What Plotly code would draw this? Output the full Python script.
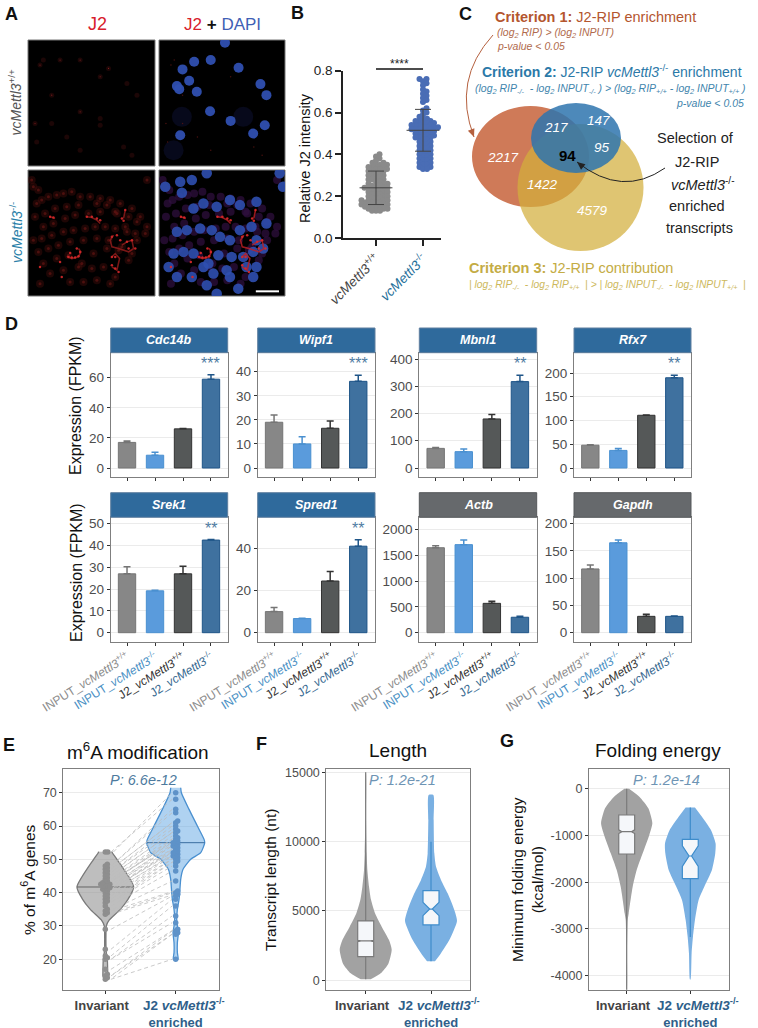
import plotly.graph_objects as go

W, H = 758, 1028
FONT = "Liberation Sans"

# ---------- DATA ----------
GENES = ["Cdc14b", "Wipf1", "Mbnl1", "Rfx7", "Srek1", "Spred1", "Actb", "Gapdh"]
BAR_VALUES = {
    "Cdc14b": [17, 8.5, 26, 59], "Wipf1": [19, 10, 16.5, 36],
    "Mbnl1": [72, 60, 180, 317], "Rfx7": [48, 37, 111, 190],
    "Srek1": [27, 19.2, 27, 42.5], "Spred1": [10, 6.7, 24.5, 41],
    "Actb": [1650, 1710, 570, 300], "Gapdh": [117, 165, 30, 30],
}
BAR_ERRORS = {
    "Cdc14b": [1, 2, 0.2, 3], "Wipf1": [3, 3, 3, 2.5],
    "Mbnl1": [3, 10, 16, 23], "Rfx7": [1, 4, 0.5, 5],
    "Srek1": [3.3, 0.3, 3.5, 0.2], "Spred1": [2, 0.2, 4.5, 3],
    "Actb": [40, 90, 40, 20], "Gapdh": [7, 5, 4, 0.5],
}
BAR_TICKS = {
    "Cdc14b": [0, 20, 40, 60], "Wipf1": [0, 10, 20, 30, 40],
    "Mbnl1": [0, 100, 200, 300, 400], "Rfx7": [0, 50, 100, 150, 200],
    "Srek1": [0, 10, 20, 30, 40, 50], "Spred1": [0, 20, 40],
    "Actb": [0, 500, 1000, 1500, 2000], "Gapdh": [0, 50, 100, 150, 200],
}
BAR_STARS = {"Cdc14b": "***", "Wipf1": "***", "Mbnl1": "**", "Rfx7": "**", "Srek1": "**", "Spred1": "**"}
BAR_LABELS = ["INPUT_<i>vcMettl3</i><sup>+/+</sup>", "INPUT_<i>vcMettl3</i><sup>-/-</sup>",
              "J2_<i>vcMettl3</i><sup>+/+</sup>", "J2_<i>vcMettl3</i><sup>-/-</sup>"]

J2_WT = [0.40,0.39,0.38,0.37,0.36,0.36,0.35,0.35,0.35,0.34,0.34,0.34,0.33,0.33,0.33,0.32,0.32,0.32,0.31,0.31,
         0.30,0.30,0.30,0.29,0.29,0.28,0.28,0.28,0.27,0.27,0.26,0.26,0.26,0.25,0.25,0.25,0.24,0.24,0.24,0.24,
         0.23,0.23,0.23,0.22,0.22,0.22,0.21,0.21,0.21,0.20,0.20,0.20,0.19,0.19,0.19,0.18,0.18,0.18,0.18,0.17,
         0.17,0.17,0.17,0.16,0.16,0.16,0.16,0.15,0.15,0.15,0.15,0.14,0.14,0.14,0.13,0.13,0.13]
J2_KO = [0.76,0.76,0.75,0.74,0.73,0.71,0.70,0.69,0.68,0.67,0.66,0.65,0.62,0.61,0.60,0.59,0.58,0.57,0.57,0.56,
         0.56,0.56,0.55,0.55,0.55,0.54,0.54,0.54,0.54,0.53,0.53,0.53,0.53,0.52,0.52,0.52,0.52,0.51,0.51,0.51,
         0.50,0.50,0.50,0.49,0.49,0.49,0.48,0.48,0.48,0.47,0.47,0.46,0.46,0.45,0.45,0.44,0.44,0.43,0.43,0.42,
         0.42,0.41,0.41,0.40,0.40,0.39,0.39,0.38,0.38,0.37,0.37,0.36,0.36,0.35,0.35,0.34,0.34,0.33,0.33]
J2_MEAN = [0.24, 0.515]
J2_SD = [0.08, 0.10]

M6A_INV = [14,14.5,15,15.5,17,20,20.5,21,23,29,33.5,34,34.5,35,36,37,37.5,38,38.5,39,39.5,40,40.5,41,41,41.5,41.5,
           42,42,42.5,42.5,42.5,43,43,43.5,44,44.5,45,45.5,46,46.5,47,47.5,48,48.5,52.2,52.2]
M6A_ENR = [20,27.5,28,28.5,29,31,33,36,38,39,39.5,40,40.5,43.5,46.5,48,49,49.5,50,50.5,51,51,51.5,52,52,52.5,53,
           53.5,54,54,54.5,55,55,55.5,56,56.5,57,58,58.5,59,60,61,61.5,64,65,68,70]
M6A_MEDIAN = [41.7, 55]
E_INV_LEVELS = [52.3,52,50,41.7,38,35,31.8,30,28,24,22,20,17,15,14]
E_INV_WIDTH = [20,21,35,85,68,45,12,3,2,2,3,6,7,7,3]
E_ENR_LEVELS = [71.5,70,65,60,56,55,52,50,47,44,40,38,35,32,30,28,25,22,20]
E_ENR_WIDTH = [15,17,40,65,85,87,75,45,22,15,12,10,5,3,5,8,5,5,7]

F_INV_LEVELS = [70,500,1200,2200,2900,3870,4830,5800,6750,7960,9160,11560,15000]
F_INV_WIDTH = [15,45,68,78,70,48,28,16,10,5,3,1,0.5]
F_ENR_LEVELS = [1370,1950,2900,4280,5070,6270,7240,8200,9160,11560,13370]
F_ENR_WIDTH = [12,30,55,78,70,50,30,15,10,8,7]
F_BOX = {"q1": [1710, 3990], "median": [2840, 5140], "q3": [4280, 6470],
         "low": [70, 1370], "high": [15000, 10000], "notch": [50, 480]}

G_INV_LEVELS = [0,-170,-420,-740,-990,-1383,-1740,-2096,-2667,-2810,-3520,-4300]
G_INV_WIDTH = [7,38,65,77,68,48,30,18,6,3,1,0.5]
G_ENR_LEVELS = [-400,-600,-885,-1170,-1383,-1740,-2096,-2380,-2810,-3166,-3520,-4080]
G_ENR_WIDTH = [14,35,62,76,75,65,42,25,14,8,4,1]
G_BOX = {"q1": [-1397, -1925], "median": [-920, -1440], "q3": [-563, -1084],
         "low": [-4300, -3170], "high": [0, -400], "notch": [40, 220]}

VENN_COUNTS = [("2217", 503, 157), ("217", 556, 127), ("147", 598, 120), ("95", 602, 148),
               ("1422", 542, 184), ("4579", 592, 211)]

# micrograph features, in image coordinates of panel A
DAPI_WT_X = [582,632,547,716,567,530,537,590,782,800,630,692,795,760,540,675]
DAPI_WT_Y = [185,180,208,203,242,258,267,275,252,285,333,362,375,400,405,128]
HAZE_WT_X = [545,730,520]
HAZE_WT_Y = [350,350,450]
DAPI_KO_X = [495,540,575,545,620,840,850,580,610,650,690,720,770,800,530,560,600,635,660,720,755,770,790,760,730,
             550,520,580,625,655,695,740,770,505,530,575,640,680,715,760,690,620,650,610,690]
DAPI_KO_Y = [560,545,540,578,520,520,560,625,610,620,600,615,605,670,695,690,685,690,710,690,680,720,745,755,770,
             755,760,760,790,765,770,800,800,800,830,830,820,810,865,830,830,855,880,800,720]
J2_BRIGHT_X = [205,215,225,235,210,240,150,160,260,275,290,365,375,370,335,350,360,380,395,405,385,345,335,345,355,335,185,120,180,300,230]
J2_BRIGHT_Y = [770,772,772,768,758,755,650,652,650,650,655,655,630,662,710,705,720,725,720,745,745,770,770,805,815,795,830,800,785,660,745]
J2_ARC_X = [200,215,235,242,235,None,340,330,335,355,385,400,395,380,365,None,260,275,290,300,None,150,165,None,370,375,None,335,345,358,350,335]
J2_ARC_Y = [768,775,770,755,745,None,705,720,740,745,755,745,720,725,735,None,650,652,660,670,None,650,655,None,655,630,None,770,760,775,810,800]
J2_DIM_X = [110,125,145,170,190,215,240,270,300,330,360,395,420,440,105,135,165,200,235,290,320,350,385,410,435,130,
            160,195,225,265,300,345,375,405,100,125,155,190,220,255,285,315,345,380,410,115,145,175,210,250,290,325,
            365,395,130,170,205,245,280,320,355,385,150,190,235,275,310,345,210,250,290,330,120,100,440,95,115]
J2_DIM_Y = [610,600,590,585,580,575,590,590,595,600,610,625,650,680,650,640,625,620,615,610,615,640,650,665,700,680,
            670,655,645,640,635,635,680,700,720,715,705,695,690,685,680,680,685,695,720,755,745,735,725,720,715,720,
            740,760,790,775,765,790,760,745,750,780,820,810,800,805,800,830,845,845,840,850,850,560,540,540,570]
J2_FAINT_X = [120,180,240,325,300,240,155,105,155,410,300,130,370,395,110,300,240,380,200]
J2_FAINT_Y = [195,180,180,205,230,335,285,370,370,285,375,180,440,465,425,355,450,250,410]
SCALE_BAR_X = [768, 838]
SCALE_BAR_Y = [873, 873]

# ---------- helpers ----------
def fx(x): return x / W
def fy(y): return 1 - y / H

fig = go.Figure()
layout = dict(width=W, height=H, margin=dict(l=0, r=0, t=0, b=0, autoexpand=False), paper_bgcolor="white",
              plot_bgcolor="rgba(0,0,0,0)", showlegend=False, boxmode="overlay",
              font=dict(family=FONT, color="#222"))
annotations, shapes = [], []
axis_count = [0]

def add_axes(box, xrange, yrange, **kw):
    axis_count[0] += 1
    n = axis_count[0]
    xa = dict(domain=[fx(box[0]), fx(box[2])], range=xrange, anchor=f"y{n}", showgrid=False, zeroline=False, automargin=False)
    ya = dict(domain=[fy(box[3]), fy(box[1])], range=yrange, anchor=f"x{n}", showgrid=False, zeroline=False, automargin=False)
    xa.update(kw.get("x", {})); ya.update(kw.get("y", {}))
    layout[f"xaxis{n}"] = xa
    layout[f"yaxis{n}"] = ya
    return f"x{n}", f"y{n}"

def cal(px_a, val_a, px_b, val_b, bottom_px, top_px):
    s = (val_b - val_a) / (px_b - px_a)
    return [val_a + (bottom_px - px_a) * s, val_a + (top_px - px_a) * s]

def ann(x, y, text, size, color="#222", anchor="center", angle=0, valign="middle"):
    annotations.append(dict(xref="paper", yref="paper", x=fx(x), y=fy(y), text=text, showarrow=False,
                            font=dict(size=size, color=color, family=FONT), xanchor=anchor, yanchor=valign,
                            textangle=angle, align="center"))

def ell(cx, cy, rx, ry, color, op, layer="above"):
    shapes.append(dict(type="circle", xref="paper", yref="paper", x0=fx(cx-rx), x1=fx(cx+rx), y0=fy(cy+ry), y1=fy(cy-ry),
                       fillcolor=color, opacity=op, line=dict(width=0), layer=layer))

def rect(x0, y0, x1, y1, fill, line=None, layer="above"):
    shapes.append(dict(type="rect", xref="paper", yref="paper", x0=fx(x0), x1=fx(x1), y0=fy(y1), y1=fy(y0),
                       fillcolor=fill, line=dict(color=line or fill, width=1), layer=layer))

def curve(p0, c, p1, color, width=1):
    shapes.append(dict(type="path", xref="paper", yref="paper",
                       path=f"M {fx(p0[0])},{fy(p0[1])} Q {fx(c[0])},{fy(c[1])} {fx(p1[0])},{fy(p1[1])}",
                       line=dict(color=color, width=width), layer="above"))
    dx, dy = p1[0]-c[0], p1[1]-c[1]
    n = (dx*dx+dy*dy)**0.5
    dx, dy = dx/n, dy/n
    L, B = 8, 3.5
    a = (p1[0]-dx*L-dy*B, p1[1]-dy*L+dx*B)
    b = (p1[0]-dx*L+dy*B, p1[1]-dy*L-dx*B)
    shapes.append(dict(type="path", xref="paper", yref="paper",
                       path=f"M {fx(p1[0])},{fy(p1[1])} L {fx(a[0])},{fy(a[1])} L {fx(b[0])},{fy(b[1])} Z",
                       fillcolor=color, line=dict(color=color, width=0), layer="above"))

def swarm(vals, ypx, xpx, d):
    order = sorted(range(len(vals)), key=lambda i: vals[i])
    placed, out = [], [0.0]*len(vals)
    for i in order:
        y = vals[i]*ypx
        k = 0
        while True:
            off = ((k+1)//2) * 0.5 * (1 if k % 2 else -1)
            if all((off-a)**2 + (y-b)**2 >= d*d for a, b in placed):
                break
            k += 1
        placed.append((off, y))
        out[i] = off/xpx
    return out

# ---------- Panel A ----------
def micro(box, xr, yr, layers):
    rect(box[0], box[1], box[2], box[3], "black", "#777", layer="below")
    xa, ya = add_axes(box, xr, yr, x=dict(visible=False), y=dict(visible=False))
    for xs, ys, size, color, op in layers:
        fig.add_trace(go.Scatter(x=xs, y=ys, mode="markers", xaxis=xa, yaxis=ya, cliponaxis=True, hoverinfo="skip",
                                 marker=dict(size=size, color=color, opacity=op, line=dict(width=0))))
    return xa, ya

OFFS = 392
micro((28, 40, 155, 166), [84, 464], [497, 120], [(J2_FAINT_X, J2_FAINT_Y, 5, "#230807", 0.8), (J2_FAINT_X[:8], J2_FAINT_Y[:8], 1.2, "#8a2020", 0.9)])
micro((159, 40, 285, 166), [476, 856], [497, 120],
      [(HAZE_WT_X, HAZE_WT_Y, 20, "#10153c", 0.45), ([x+OFFS for x in J2_FAINT_X], J2_FAINT_Y, 1.5, "#5a1512", 0.8),
       (DAPI_WT_X, DAPI_WT_Y, 10, "#2f4fb0", 0.95)])
xa, ya = micro((28, 170, 155, 296), [84, 464], [887, 510],
      [(J2_DIM_X, J2_DIM_Y, 8, "#4a0f0d", 0.4), (J2_DIM_X, J2_DIM_Y, 3, "#7a1a18", 0.5)])
fig.add_trace(go.Scatter(x=J2_ARC_X, y=J2_ARC_Y, mode="lines", xaxis=xa, yaxis=ya, hoverinfo="skip", opacity=0.75,
                         line=dict(color="#a01f1e", width=1.6)))
fig.add_trace(go.Scatter(x=J2_BRIGHT_X, y=J2_BRIGHT_Y, mode="markers", xaxis=xa, yaxis=ya, hoverinfo="skip",
                         marker=dict(size=2.5, color="#d5282a", opacity=0.9)))
xa, ya = micro((159, 170, 285, 296), [476, 856], [887, 510],
      [([x+OFFS for x in J2_DIM_X], J2_DIM_Y, 8, "#301040", 0.7), (DAPI_KO_X, DAPI_KO_Y, 10.5, "#2f4fb0", 0.9)])
fig.add_trace(go.Scatter(x=[None if v is None else v+OFFS for v in J2_ARC_X], y=J2_ARC_Y, mode="lines", xaxis=xa, yaxis=ya,
                         hoverinfo="skip", opacity=0.8, line=dict(color="#c02024", width=1.6)))
fig.add_trace(go.Scatter(x=[x+OFFS for x in J2_BRIGHT_X], y=J2_BRIGHT_Y, mode="markers", xaxis=xa, yaxis=ya, hoverinfo="skip",
                         marker=dict(size=2.5, color="#d5282a", opacity=0.95)))
fig.add_trace(go.Scatter(x=SCALE_BAR_X, y=SCALE_BAR_Y, mode="lines", xaxis=xa, yaxis=ya, hoverinfo="skip",
                         line=dict(color="white", width=2)))
ann(97, 24, "J2", 18, "#D8202C")
ann(222, 24, "<span style='color:#D8202C'>J2</span> <b>+</b> <span style='color:#3F5FB5'>DAPI</span>", 17, "#111")
ann(16, 102.5, "<i>vcMettl3</i><sup>+/+</sup>", 14, "#555", angle=-90)
ann(16, 233, "<i>vcMettl3</i><sup>-/-</sup>", 14, "#2A7FA8", angle=-90)

# ---------- Panel B ----------
bbox = (343, 70.7, 441, 238)
sp = 47
xa, ya = add_axes(bbox, [-33/sp, 65/sp], [0, 0.8],
    x=dict(showline=True, linecolor="#222", linewidth=1.5, ticks="outside", ticklen=6, tickwidth=1.5, tickcolor="#222",
           tickvals=[0, 1], tickangle=-45, tickfont=dict(size=13.5),
           ticktext=["<span style='color:#444'><i>vcMettl3</i><sup>+/+</sup></span>", "<span style='color:#1F6F9A'><i>vcMettl3</i><sup>-/-</sup></span>"]),
    y=dict(showline=True, linecolor="#222", linewidth=1.5, ticks="outside", ticklen=6, tickwidth=1.5, tickcolor="#222",
           tickvals=[0, .2, .4, .6, .8], ticktext=["0.0", "0.2", "0.4", "0.6", "0.8"], tickfont=dict(size=13.5, color="#222")))
for i, (vals, c) in enumerate([(J2_WT, "#8A8A8A"), (J2_KO, "#4A6DB5")]):
    off = swarm(vals, 209, sp, 4.0)
    fig.add_trace(go.Scatter(x=[i+o for o in off], y=vals, mode="markers", xaxis=xa, yaxis=ya, cliponaxis=False,
                             marker=dict(size=6, color=c), hoverinfo="y"))
    fig.add_trace(go.Scatter(x=[i], y=[J2_MEAN[i]], mode="markers", xaxis=xa, yaxis=ya,
                             marker=dict(size=1, color="#333"),
                             error_y=dict(type="constant", value=J2_SD[i], color="#444", thickness=1, width=8),
                             hoverinfo="skip"))
    fig.add_trace(go.Scatter(x=[i-0.35, i+0.35], y=[J2_MEAN[i]]*2, mode="lines", xaxis=xa, yaxis=ya,
                             line=dict(color="#444", width=1), hoverinfo="skip"))
shapes.append(dict(type="line", xref=xa, yref="paper", x0=0, x1=1, y0=fy(69), y1=fy(69),
                   line=dict(color="#111", width=1.5), layer="above"))
ann(399, 64, "****", 12, "#222")
ann(305, 158, "Relative J2 intensity", 14.5, "#111", angle=-90)

# ---------- Panel C ----------
ell(530.5, 156.5, 58.5, 50.5, "#CF7A58", 1)
ell(580.5, 187.5, 63, 63.5, "#D2AF3C", 0.72)
ell(576, 138, 45, 35, "#2E74AE", 0.85)
for t, x, y in VENN_COUNTS:
    ann(x, y, f"<i>{t}</i>", 13.5, "white")
ann(567, 155, "<b>94</b>", 15, "black")
ann(493, 17, "<b>Criterion 1:</b> J2-RIP enrichment", 14.5, "#B4562F", anchor="left")
ann(495, 33, "<i>(log<sub>2</sub> RIP) &gt; (log<sub>2</sub> INPUT)</i>", 10.5, "#B06A4C", anchor="left")
ann(495, 46, "<i>p-value &lt; 0.05</i>", 10.5, "#B06A4C", anchor="left")
ann(480, 71, "<b>Criterion 2:</b> J2-RIP <i>vcMettl3</i><sup>-/-</sup> enrichment", 14, "#2B79A8", anchor="left")
ann(473, 89, "<i>(log<sub>2</sub> RIP<sub>-/-</sub>  - log<sub>2</sub> INPUT<sub>-/-</sub> ) &gt; (log<sub>2</sub> RIP<sub>+/+</sub> - log<sub>2</sub> INPUT<sub>+/+</sub> )</i>", 10.5, "#3F85AD", anchor="left")
ann(746, 103, "<i>p-value &lt; 0.05</i>", 10.5, "#3F85AD", anchor="right")
ann(467, 268, "<b>Criterion 3:</b> J2-RIP contribution", 14.5, "#C4AC45", anchor="left")
ann(467, 285, "<i>| log<sub>2</sub> RIP<sub>-/-</sub>  - log<sub>2</sub> RIP<sub>+/+</sub>  | &gt; | log<sub>2</sub> INPUT<sub>-/-</sub>  - log<sub>2</sub> INPUT<sub>+/+</sub>  |</i>", 10.3, "#CDB85C", anchor="left")
for t, x, y in [("Selection of", 695, 138), ("J2-RIP", 697, 162), ("<i>vcMettl3</i><sup>-/-</sup>", 703, 184),
                ("enriched", 697, 206), ("transcripts", 699, 228)]:
    ann(x, y, t, 14.5, "#222")
curve((665, 168), (622, 198), (577, 162), "#222", 1)
curve((493, 35), (452, 80), (474, 137), "#B5613F", 1)

# ---------- Panel D ----------
COLS = [(110.7, 227.7), (257.7, 375), (419.3, 536.7), (574, 691)]
ROW1 = (328, 352.7, 476.7)
ROW2 = (492.7, 517.3, 641.7)
CAL = {"Cdc14b": (468, 0, 377.7, 60), "Wipf1": (468, 0, 371.7, 40), "Mbnl1": (468, 0, 359, 400), "Rfx7": (468, 0, 373, 200),
       "Srek1": (632.7, 0, 523.7, 50), "Spred1": (632.7, 0, 548.3, 40), "Actb": (632.7, 0, 529.7, 2000), "Gapdh": (632.7, 0, 523.7, 200)}
FILL = ["#878787", "#5A9BDC", "#555858", "#3F719F"]
EDGE = ["#757575", "#4A90D0", "#333333", "#1F5588"]
TXT = ["#8C8C8C", "#4A90C4", "#333333", "#36688F"]
ticktext = [f"<span style='color:{c}'>{t}</span>" for c, t in zip(TXT, BAR_LABELS)]
for k, gene in enumerate(GENES):
    col, row = k % 4, k // 4
    hdr, top, bot = ROW1 if row == 0 else ROW2
    x0, x1 = COLS[col]
    yr = cal(CAL[gene][0], CAL[gene][1], CAL[gene][2], CAL[gene][3], bot, top)
    xa, ya = add_axes((x0, top, x1, bot), [-0.583, 3.597], yr,
        x=dict(showline=True, mirror=True, linecolor="#7F7F7F", linewidth=1, ticks="outside", ticklen=3, tickcolor="#333",
               tickvals=[0, 1, 2, 3], ticktext=ticktext, showticklabels=row == 1, tickangle=-32, tickfont=dict(size=12)),
        y=dict(showline=True, mirror=True, linecolor="#7F7F7F", linewidth=1, ticks="outside", ticklen=3, tickcolor="#333",
               tickvals=BAR_TICKS[gene], tickfont=dict(size=13.5, color="#4D4D4D"),
               showgrid=True, gridcolor="#EBEBEB", gridwidth=1))
    for i in range(4):
        fig.add_trace(go.Bar(x=[i], y=[BAR_VALUES[gene][i]], width=0.62, xaxis=xa, yaxis=ya,
                             marker=dict(color=FILL[i], line=dict(color=EDGE[i], width=1)),
                             error_y=dict(type="data", symmetric=False, array=[BAR_ERRORS[gene][i]], arrayminus=[0],
                                          color=EDGE[i], thickness=1.5, width=3.5)))
    hc = "#2F6A9C" if gene not in ("Actb", "Gapdh") else "#66696C"
    rect(x0, hdr, x1, top, hc, "#5F7F9F" if gene not in ("Actb", "Gapdh") else "#55585B")
    ann((x0+x1)/2, (hdr+top)/2, f"<b><i>{gene}</i></b>", 12.5, "white")
    if gene in BAR_STARS:
        annotations.append(dict(xref=xa, yref="paper", x=3, y=fy(top+11), text=BAR_STARS[gene], showarrow=False,
                                font=dict(size=16, color="#4F7CA3", family=FONT), xanchor="center", yanchor="middle"))
ann(76, 406, "Expression (FPKM)", 16, "#111", angle=-90)
ann(76, 573, "Expression (FPKM)", 16, "#111", angle=-90)

# ---------- Panels E, F, G ----------
def violin(xa, ya, c, levels, widths, scale, fill, line=None):
    xs = [c - w/scale for w in widths] + [c + w/scale for w in reversed(widths)]
    ys = list(levels) + list(reversed(levels))
    fig.add_trace(go.Scatter(x=xs, y=ys, mode="lines", fill="toself", fillcolor=fill, xaxis=xa, yaxis=ya, hoverinfo="skip",
                             line=dict(color=line or fill, width=1.3 if line else 0, shape="spline", smoothing=0.6)))

def overlay_axes(box, xr, yr, xa, ya):
    return add_axes(box, xr, yr, x=dict(overlaying=xa, visible=False), y=dict(overlaying=ya, visible=False))

def boxes(xa, ya, c, box, i, color, width):
    fig.add_trace(go.Box(x=[c], q1=[box["q1"][i]], median=[box["median"][i]], q3=[box["q3"][i]],
                         lowerfence=[box["low"][i]], upperfence=[box["high"][i]],
                         notched=True, notchspan=[box["notch"][i]], notchwidth=0.2 if i == 0 else 0.42,
                         width=width, whiskerwidth=0, boxpoints=False, xaxis=xa, yaxis=ya, fillcolor="#F5F7FA",
                         line=dict(color=color, width=1.2), hoverinfo="skip"))

NB = "\u00a0"
GROUP_TICKS = [f"<span style='color:#444'><b>Invariant{NB*2}</b></span>",
               f"<span style='color:#2F5F8A'><b>{NB}<br>enriched</b></span>"]
def vaxes(box, c0, c1, yr, ticks):
    s = c1 - c0
    xr = [(box[0]-c0)/s, (box[2]-c0)/s]
    yk = dict(showline=True, mirror=True, linecolor="#7F7F7F", linewidth=1, ticks="outside", ticklen=3, tickcolor="#333",
              tickvals=ticks, ticktext=[str(t) for t in ticks], tickfont=dict(size=12.5, color="#4D4D4D"),
              showgrid=True, gridcolor="#EBEBEB", gridwidth=1)
    xa, ya = add_axes(box, xr, yr,
        x=dict(showline=True, mirror=True, linecolor="#7F7F7F", linewidth=1, ticks="outside", ticklen=3, tickcolor="#333",
               tickvals=[0, 1], ticktext=GROUP_TICKS, tickangle=0, tickfont=dict(size=13)), y=yk)
    annotations.append(dict(xref=xa, yref="paper", x=1, xshift=8, y=fy(1004),
                            text="<b>J2 <i>vcMettl3</i><sup>-/-</sup></b>", showarrow=False, xanchor="center", yanchor="middle",
                            font=dict(size=13.5, color="#2F5F8A", family=FONT)))
    return xa, ya, xr

# E
top, bot = 769.3, 990
box = (63.3, top, 218.7, bot)
xa, ya, xr = vaxes(box, 105.3, 175.7, cal(792.7, 70, 959.3, 20, bot, top), [20, 30, 40, 50, 60, 70])
violin(xa, ya, 0, E_INV_LEVELS, E_INV_WIDTH, 211, "rgba(150,150,150,0.62)", "#7A7A7A")
violin(xa, ya, 1, E_ENR_LEVELS, E_ENR_WIDTH, 211, "rgba(95,165,228,0.5)", "#4A90D0")
for i, c in enumerate(["#666", "#3A6EA0"]):
    fig.add_trace(go.Scatter(x=[i - (E_INV_WIDTH if i == 0 else E_ENR_WIDTH)[3 if i == 0 else 5]/211,
                                i + (E_INV_WIDTH if i == 0 else E_ENR_WIDTH)[3 if i == 0 else 5]/211],
                             y=[M6A_MEDIAN[i]]*2, mode="lines", xaxis=xa, yaxis=ya, line=dict(color=c, width=1), hoverinfo="skip"))
off0 = swarm(M6A_INV, 3.33, 70.4, 2.4)
off1 = swarm(M6A_ENR, 3.33, 70.4, 2.4)
lx, ly = [], []
for a, b, o0, o1 in zip(M6A_INV, M6A_ENR, off0, off1):
    lx += [o0+0.08, 1+o1-0.05, None]
    ly += [a, b, None]
fig.add_trace(go.Scatter(x=lx, y=ly, mode="lines", xaxis=xa, yaxis=ya, hoverinfo="skip",
                         line=dict(color="#BDBDBD", width=0.8, dash="4px,3px")))
fig.add_trace(go.Scatter(x=off0, y=M6A_INV, mode="markers", xaxis=xa, yaxis=ya, marker=dict(size=5.5, color="#8E8E8E")))
fig.add_trace(go.Scatter(x=[1+o for o in off1], y=M6A_ENR, mode="markers", xaxis=xa, yaxis=ya, marker=dict(size=5.5, color="#5E92C8")))
ann(138, 751, "m<sup>6</sup>A modification", 19, "#111")
ann(143, 780, "<i>P: 6.6e-12</i>", 14.5, "#4D7A9E")
ann(28, 880, "% of m<sup>6</sup>A genes", 15.5, "#111", angle=-90)

# F
box = (326.3, top, 470, bot)
yr = cal(980.3, 0, 772.3, 15000, bot, top)
xa, ya, xr = vaxes(box, 365.7, 431, yr, [0, 5000, 10000, 15000])
violin(xa, ya, 0, F_INV_LEVELS, F_INV_WIDTH, 196, "#A2A2A2")
violin(xa, ya, 1, F_ENR_LEVELS, F_ENR_WIDTH, 196, "#7AB0E2")
xb, yb = overlay_axes(box, xr, yr, xa, ya)
boxes(xb, yb, 0, F_BOX, 0, "#7A7A7A", 0.245)
boxes(xb, yb, 1, F_BOX, 1, "#3E8CCB", 0.245)
ann(398, 750, "Length", 19, "#111")
ann(402.7, 780, "<i>P: 1.2e-21</i>", 14.5, "#6E94B4")
ann(270, 880, "Transcript length (nt)", 15.5, "#111", angle=-90)

# G
box = (589, top, 728.7, bot)
yr = cal(788.7, 0, 975.7, -4000, bot, top)
xa, ya, xr = vaxes(box, 626.7, 690.3, yr, [0, -1000, -2000, -3000, -4000])
violin(xa, ya, 0, G_INV_LEVELS, G_INV_WIDTH, 191, "#A2A2A2")
violin(xa, ya, 1, G_ENR_LEVELS, G_ENR_WIDTH, 191, "#7AB0E2")
xb, yb = overlay_axes(box, xr, yr, xa, ya)
boxes(xb, yb, 0, G_BOX, 0, "#7A7A7A", 0.25)
boxes(xb, yb, 1, G_BOX, 1, "#3E8CCB", 0.25)
ann(658, 750, "Folding energy", 19, "#111")
ann(666, 780, "<i>P: 1.2e-14</i>", 14.5, "#6E94B4")
ann(527, 880, "Minimum folding energy<br>(kcal/mol)", 15.5, "#111", angle=-90)

# panel letters
for t, x, y in [("A", 11, 14), ("B", 297, 13), ("C", 465, 14), ("D", 11, 324), ("E", 9, 745), ("F", 261, 744), ("G", 507, 741)]:
    ann(x, y, f"<b>{t}</b>", 18, "#111")

layout["annotations"] = annotations
layout["shapes"] = shapes
fig.update_layout(**layout)
fig.write_html("out.html", config={"displayModeBar": False}, post_script="document.body.style.margin='0';")
